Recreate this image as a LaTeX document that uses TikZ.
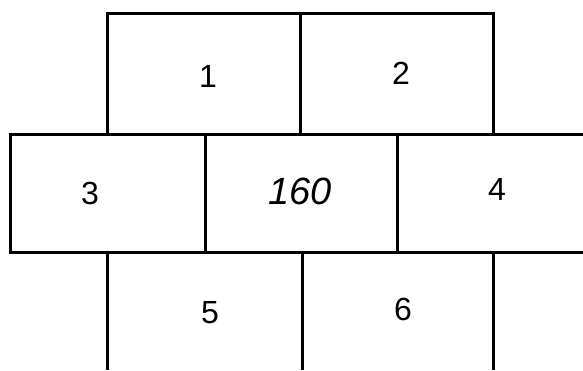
\documentclass[tikz,border=0pt]{standalone}
\usepackage{fontspec}
\setmainfont{Liberation Sans}
\begin{document}
\begin{tikzpicture}[x=1pt,y=-1pt,line width=3pt,every node/.style={font=\fontsize{32}{38}\selectfont}]
\useasboundingbox (0,0) rectangle (583,370);
\draw (107,134) -- (107,13) -- (493,13) -- (493,134) (300,13) -- (300,134);
\draw (583,134) -- (10,134) -- (10,252) -- (583,252) (205,134) -- (205,252) (397,134) -- (397,252);
\foreach \x in {107,302,493} {\draw (\x,252) -- (\x,370);}
\node (c1) at (208,76) {1}; \node (c2) at (401,73) {2};
\node (c3) at (90,193) {3}; \node (c4) at (497,189) {4};
\node[font=\fontsize{38}{44}\selectfont\itshape] (c0) at (300,191) {160};
\node (c5) at (210,313) {5}; \node (c6) at (403,309) {6};
\end{tikzpicture}
\end{document}
